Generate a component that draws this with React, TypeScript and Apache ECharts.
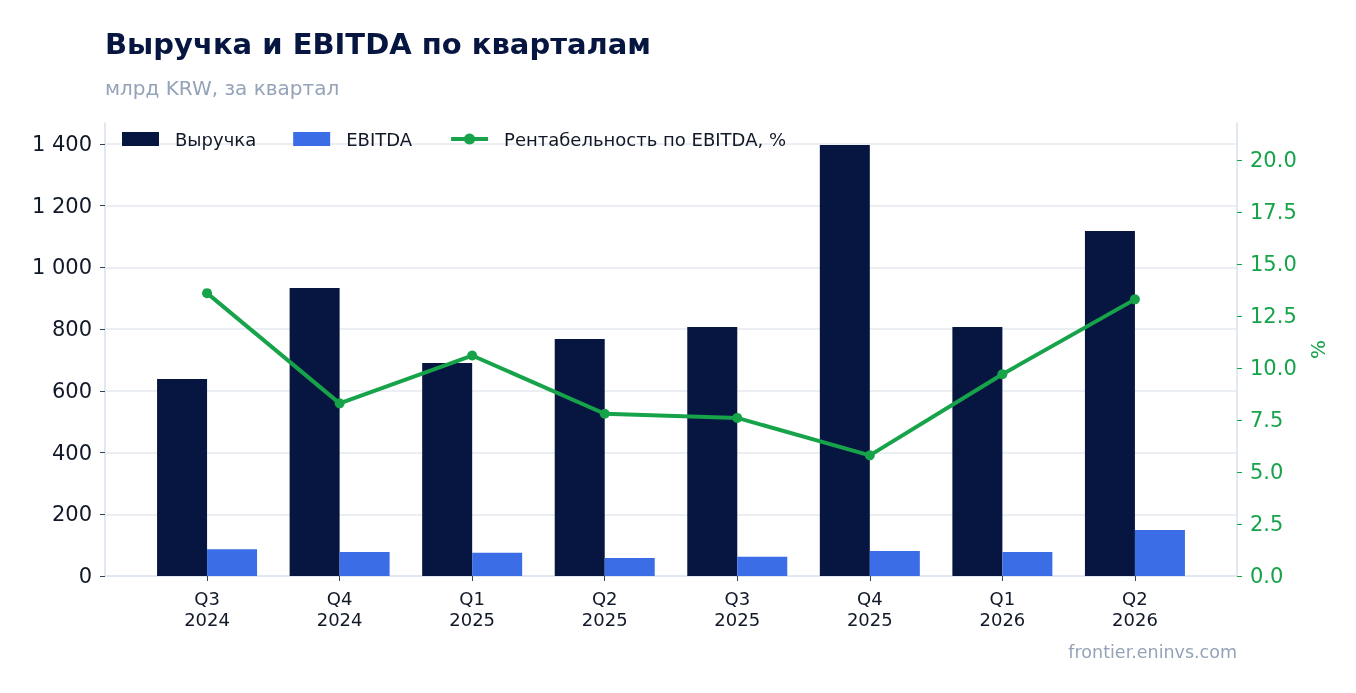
import React, { useEffect, useRef } from "react";
import * as echarts from "echarts";

const categories = ["Q3\n2024", "Q4\n2024", "Q1\n2025", "Q2\n2025", "Q3\n2025", "Q4\n2025", "Q1\n2026", "Q2\n2026"];
const revenue = [638, 933, 690, 768, 807, 1397, 807, 1118];
const ebitda = [87, 78, 75, 58, 62, 81, 78, 149];
const margin = [13.6, 8.3, 10.6, 7.8, 7.6, 5.8, 9.7, 13.3];
const leftTicks = [0, 200, 400, 600, 800, 1000, 1200, 1400];
const rightTicks = [0, 2.5, 5, 7.5, 10, 12.5, 15, 17.5, 20];
const catIndex = categories.map((_, i) => i);

const NAVY = "#061640";
const BLUE = "#3a6de6";
const GREEN = "#16a34a";
const FONT = "DejaVu Sans";

export default function App() {
  const ref = useRef<HTMLDivElement>(null);
  useEffect(() => {
    if (!ref.current) return;
    const chart = echarts.init(ref.current, null, { renderer: "svg" });
    chart.setOption({
      animation: false,
      textStyle: { fontFamily: FONT },
      title: [
        {
          text: "Выручка и EBITDA по кварталам",
          left: 100,
          top: 24,
          textStyle: { fontFamily: FONT, fontSize: 29, fontWeight: "bold", color: "#061640" },
        },
        {
          text: "млрд KRW, за квартал",
          left: 100,
          top: 73,
          textStyle: { fontFamily: FONT, fontSize: 20, fontWeight: "normal", color: "#94a3b8" },
        },
        {
          text: "frontier.eninvs.com",
          right: 114,
          top: 638,
          textStyle: { fontFamily: FONT, fontSize: 17.5, fontWeight: "normal", color: "#94a3b8" },
        },
      ],
      legend: {
        left: 117,
        top: 125,
        itemWidth: 37,
        itemHeight: 14,
        itemGap: 37,
        textStyle: { fontFamily: FONT, fontSize: 18, color: "#111827", padding: [0, 0, 0, 11] },
        data: [
          { name: "Выручка", icon: "rect" },
          { name: "EBITDA", icon: "rect" },
          { name: "Рентабельность по EBITDA, %", lineStyle: { width: 4, color: GREEN } },
        ],
      },
      grid: { left: 105, right: 119, top: 123, bottom: 117, containLabel: false },
      xAxis: {
        type: "value",
        min: -0.77,
        max: 7.77,
        axisLine: { show: true, onZero: false, lineStyle: { color: "#e2e8f0", width: 2 } },
        axisTick: { show: true, length: 5, customValues: catIndex, lineStyle: { color: "#334155" } },
        axisLabel: {
          customValues: catIndex,
          fontFamily: FONT,
          fontSize: 18,
          color: "#111827",
          lineHeight: 21,
          margin: 12,
          formatter: (v: number) => categories[Math.round(v)] ?? "",
        },
        splitLine: { show: false },
      },
      yAxis: [
        {
          type: "value",
          min: 0,
          max: 1468,
          interval: 200,
          axisLine: { show: true, onZero: false, lineStyle: { color: "#e2e8f0", width: 2 } },
          axisTick: { show: true, length: 5, customValues: leftTicks, lineStyle: { color: "#334155" } },
          axisLabel: {
            customValues: leftTicks,
            fontFamily: FONT,
            fontSize: 21,
            color: "#111827",
            margin: 13,
            formatter: (v: number) => String(v).replace(/\B(?=(\d{3})+(?!\d))/g, " "),
          },
          splitLine: { show: true, lineStyle: { color: "#e5e8ef", width: 1.5 } },
        },
        {
          type: "value",
          min: 0,
          max: 21.78,
          interval: 2.5,
          position: "right",
          name: "%",
          nameLocation: "middle",
          nameGap: 70,
          nameRotate: 90,
          nameTextStyle: { fontFamily: FONT, fontSize: 20, color: GREEN },
          axisLine: { show: true, onZero: false, lineStyle: { color: "#e2e8f0", width: 2 } },
          axisTick: { show: true, length: 5, customValues: rightTicks, lineStyle: { color: GREEN } },
          axisLabel: {
            customValues: rightTicks,
            fontFamily: FONT,
            fontSize: 21,
            color: GREEN,
            margin: 13,
            formatter: (v: number) => v.toFixed(1),
          },
          splitLine: { show: false },
        },
      ],
      series: [
        {
          name: "Выручка",
          type: "bar",
          data: revenue.map((v, i) => [catIndex[i], v]),
          barWidth: 50,
          barGap: "0%",
          itemStyle: { color: NAVY },
        },
        {
          name: "EBITDA",
          type: "bar",
          data: ebitda.map((v, i) => [catIndex[i], v]),
          barWidth: 50,
          barGap: "0%",
          itemStyle: { color: BLUE },
        },
        {
          name: "Рентабельность по EBITDA, %",
          type: "line",
          yAxisIndex: 1,
          data: margin.map((v, i) => [catIndex[i], v]),
          symbol: "circle",
          symbolSize: 10,
          lineStyle: { color: GREEN, width: 4 },
          itemStyle: { color: GREEN },
          z: 5,
        },
      ],
    });
    return () => chart.dispose();
  }, []);
  return <div ref={ref} style={{ position: "fixed", left: 0, top: 0, width: 1356, height: 693 }} />;
}
